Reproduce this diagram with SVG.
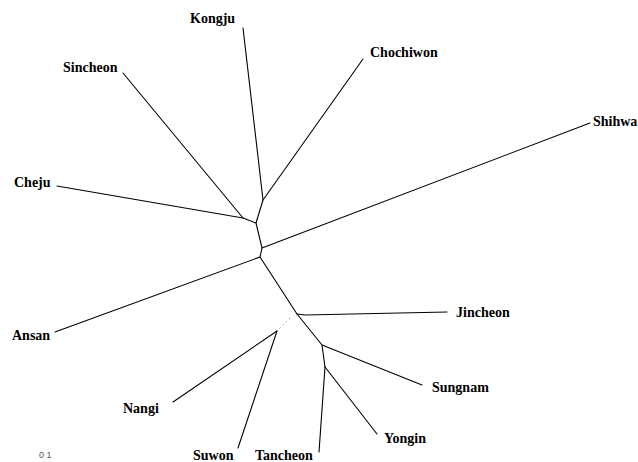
<svg xmlns="http://www.w3.org/2000/svg" width="638" height="462" viewBox="0 0 638 462">
<style>
.lbl{font-family:"Liberation Serif","Times New Roman",serif;font-weight:bold;font-size:14px;fill:#000}
.br{stroke:#000;stroke-width:1.1;fill:none;stroke-linecap:round;stroke-linejoin:round}
.faint{stroke:#999;stroke-width:1;fill:none;stroke-dasharray:1.5 3}
.scale{font-family:"Liberation Sans",Arial,sans-serif;font-size:9px;fill:#555}
</style>
<rect width="638" height="462" fill="#fff"/>
<g id="connectors">
<polyline class="br" points="243,28 263,200 256,223 262,248 260,257 297,314 322,345 325,367"/>
<line class="br" x1="363" y1="59" x2="263" y2="200"/>
<line class="br" x1="123" y1="73" x2="243" y2="218"/>
<polyline class="br" points="57,186 243,218 256,223"/>
<line class="br" x1="262" y1="248" x2="590" y2="123"/>
<line class="br" x1="260" y1="257" x2="55" y2="332"/>
<polyline class="br" points="297,314 305,315 447,312"/>
<line class="br" x1="322" y1="345" x2="422" y2="385"/>
<line class="br" x1="325" y1="367" x2="377" y2="434"/>
<line class="br" x1="325" y1="367" x2="319" y2="452"/>
<line class="faint" x1="290" y1="318" x2="278" y2="330"/>
<line class="br" x1="277" y1="331" x2="173" y2="402"/>
<line class="br" x1="277" y1="331" x2="238" y2="448"/>
</g>
<g id="Kongju"><text class="lbl" x="190" y="23">Kongju</text></g>
<g id="Chochiwon"><text class="lbl" x="370" y="57">Chochiwon</text></g>
<g id="Sincheon"><text class="lbl" x="63" y="72">Sincheon</text></g>
<g id="Shihwa"><text class="lbl" x="593" y="126">Shihwa</text></g>
<g id="Cheju"><text class="lbl" x="14" y="187">Cheju</text></g>
<g id="Ansan"><text class="lbl" x="12" y="340">Ansan</text></g>
<g id="Jincheon"><text class="lbl" x="456" y="317">Jincheon</text></g>
<g id="Sungnam"><text class="lbl" x="432" y="392">Sungnam</text></g>
<g id="Nangi"><text class="lbl" x="123" y="413">Nangi</text></g>
<g id="Yongin"><text class="lbl" x="384" y="443">Yongin</text></g>
<g id="Suwon"><text class="lbl" x="193" y="460">Suwon</text></g>
<g id="Tancheon"><text class="lbl" x="255" y="460">Tancheon</text></g>
<g id="scale"><text class="scale" x="39" y="458">0 1</text></g>
</svg>
